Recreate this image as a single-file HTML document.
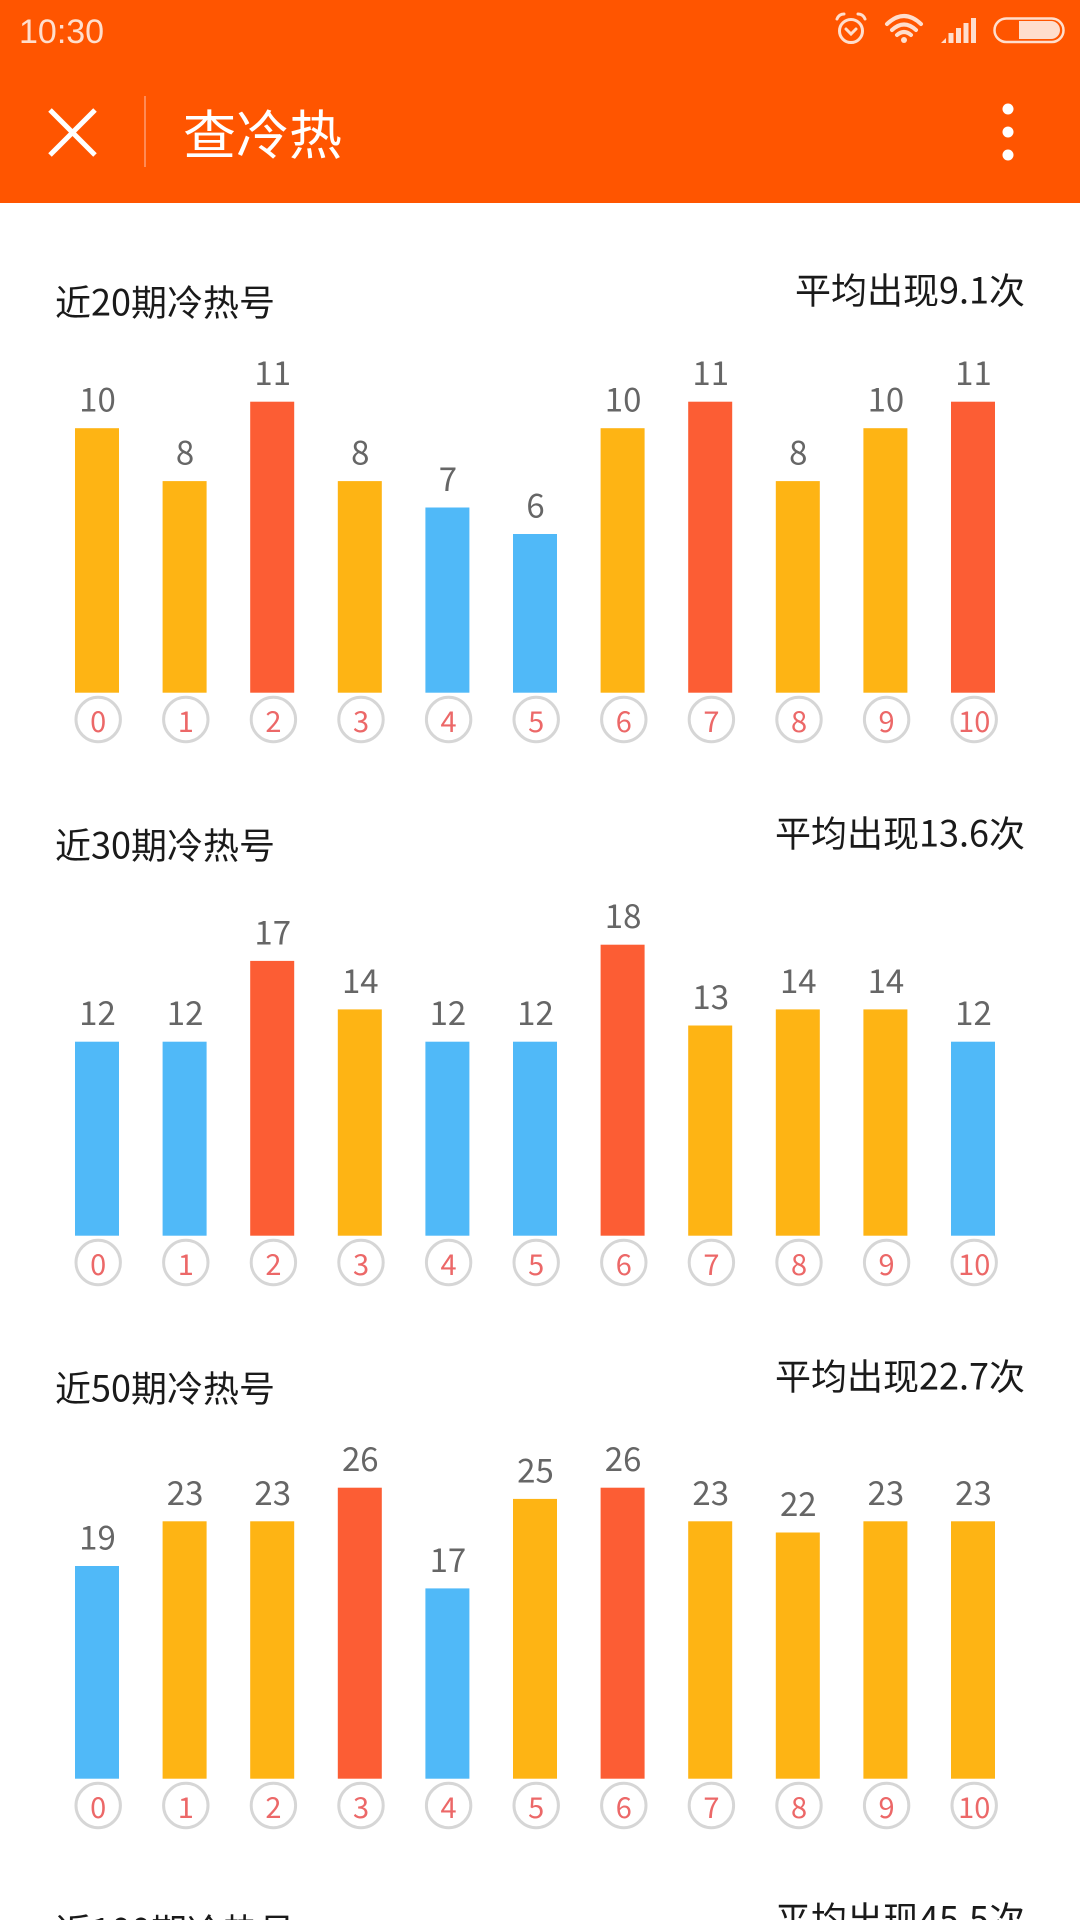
<!DOCTYPE html>
<html>
<head>
<meta charset="utf-8">
<style>
html,body{margin:0;padding:0;background:#fff;}
body{width:1080px;height:1920px;overflow:hidden;}
svg{display:block;}
.t{font-family:"Noto Sans CJK SC","Liberation Sans",sans-serif;}
</style>
</head>
<body>
<svg width="1080" height="1920" viewBox="0 0 1080 1920" xmlns="http://www.w3.org/2000/svg">
<!-- Header -->
<rect x="0" y="0" width="1080" height="203" fill="#ff5500"/>
<text x="19" y="43" font-family="Liberation Sans, sans-serif" font-size="34" fill="#ffdecd">10:30</text>
<!-- alarm -->
<g fill="none" stroke="#ffdecd" stroke-width="3" stroke-linecap="round">
<circle cx="851" cy="31" r="11.5"/>
<path d="M846 29 L851 34 L856 29"/>
<path d="M837 19 Q839 14 844 14"/>
<path d="M865 19 Q863 14 858 14"/>
</g>
<!-- wifi -->
<g fill="none" stroke="#ffdecd" stroke-width="4" stroke-linecap="round">
<path d="M887 24 Q904 8 921 24"/>
<path d="M892 30 Q904 19 916 30"/>
<path d="M897 35 Q904 29 911 35"/>
</g>
<circle cx="904" cy="40" r="3" fill="#ffdecd"/>
<!-- signal -->
<g fill="#ffdecd">
<polygon points="941,43 946,38 946,43"/>
<rect x="948.5" y="33" width="5" height="10"/>
<rect x="956" y="28" width="5" height="15"/>
<rect x="963.5" y="23" width="5" height="20"/>
<rect x="971" y="18" width="5" height="25"/>
</g>
<!-- battery -->
<rect x="994.5" y="18.5" width="69" height="23.5" rx="11.75" fill="none" stroke="#ffdecd" stroke-width="2.5"/>
<path d="M1019 21 H1051 A9 9 0 0 1 1051 39 H1019 Z" fill="#ffdecd"/>
<!-- toolbar -->
<g stroke="#ffffff" stroke-width="5" stroke-linecap="butt">
<line x1="50" y1="110" x2="95" y2="155"/>
<line x1="95" y1="110" x2="50" y2="155"/>
</g>
<line x1="145" y1="96" x2="145" y2="167" stroke="#ff8a55" stroke-width="2"/>
<text class="t" x="183" y="154" font-size="53" fill="#ffffff">查冷热</text>
<g fill="#ffffff">
<circle cx="1008" cy="109" r="5.5"/>
<circle cx="1008" cy="132" r="5.5"/>
<circle cx="1008" cy="155" r="5.5"/>
</g>

<!-- Chart 1 -->
<g class="t">
<text x="55" y="315.5" font-size="36" fill="#1a1a1a">近20期冷热号</text>
<text x="1025" y="303.5" font-size="36" fill="#1a1a1a" text-anchor="end">平均出现9.1次</text>
</g>
<rect x="75" y="428.2" width="44" height="264.5" fill="#feb414"/>
<rect x="162.6" y="481.1" width="44" height="211.6" fill="#feb414"/>
<rect x="250.2" y="401.7" width="44" height="291" fill="#fc5d34"/>
<rect x="337.8" y="481.1" width="44" height="211.6" fill="#feb414"/>
<rect x="425.4" y="507.5" width="44" height="185.2" fill="#50b9f8"/>
<rect x="513" y="534" width="44" height="158.7" fill="#50b9f8"/>
<rect x="600.6" y="428.2" width="44" height="264.5" fill="#feb414"/>
<rect x="688.2" y="401.7" width="44" height="291" fill="#fc5d34"/>
<rect x="775.8" y="481.1" width="44" height="211.6" fill="#feb414"/>
<rect x="863.4" y="428.2" width="44" height="264.5" fill="#feb414"/>
<rect x="951" y="401.7" width="44" height="291" fill="#fc5d34"/>
<g class="t" font-size="33" fill="#666666" text-anchor="middle">
<text x="97.5" y="411.7">10</text>
<text x="185.1" y="464.6">8</text>
<text x="272.7" y="385.2">11</text>
<text x="360.3" y="464.6">8</text>
<text x="447.9" y="491">7</text>
<text x="535.5" y="517.5">6</text>
<text x="623.1" y="411.7">10</text>
<text x="710.7" y="385.2">11</text>
<text x="798.3" y="464.6">8</text>
<text x="885.9" y="411.7">10</text>
<text x="973.5" y="385.2">11</text>
</g>
<g fill="none" stroke="#d6d6d6" stroke-width="3">
<circle cx="98.2" cy="719.5" r="22.2"/><circle cx="185.8" cy="719.5" r="22.2"/><circle cx="273.4" cy="719.5" r="22.2"/><circle cx="361" cy="719.5" r="22.2"/><circle cx="448.6" cy="719.5" r="22.2"/><circle cx="536.2" cy="719.5" r="22.2"/><circle cx="623.8" cy="719.5" r="22.2"/><circle cx="711.4" cy="719.5" r="22.2"/><circle cx="799" cy="719.5" r="22.2"/><circle cx="886.6" cy="719.5" r="22.2"/><circle cx="974.2" cy="719.5" r="22.2"/>
</g>
<g class="t" font-size="29" fill="#ec6868" text-anchor="middle">
<text x="98.2" y="732">0</text><text x="185.8" y="732">1</text><text x="273.4" y="732">2</text><text x="361" y="732">3</text><text x="448.6" y="732">4</text><text x="536.2" y="732">5</text><text x="623.8" y="732">6</text><text x="711.4" y="732">7</text><text x="799" y="732">8</text><text x="886.6" y="732">9</text><text x="974.2" y="732">10</text>
</g>

<!-- Chart 2 -->
<g class="t">
<text x="55" y="858.5" font-size="36" fill="#1a1a1a">近30期冷热号</text>
<text x="1025" y="846.5" font-size="36" fill="#1a1a1a" text-anchor="end">平均出现13.6次</text>
</g>
<rect x="75" y="1041.7" width="44" height="194" fill="#50b9f8"/>
<rect x="162.6" y="1041.7" width="44" height="194" fill="#50b9f8"/>
<rect x="250.2" y="960.9" width="44" height="274.8" fill="#fc5d34"/>
<rect x="337.8" y="1009.4" width="44" height="226.3" fill="#feb414"/>
<rect x="425.4" y="1041.7" width="44" height="194" fill="#50b9f8"/>
<rect x="513" y="1041.7" width="44" height="194" fill="#50b9f8"/>
<rect x="600.6" y="944.7" width="44" height="291" fill="#fc5d34"/>
<rect x="688.2" y="1025.5" width="44" height="210.2" fill="#feb414"/>
<rect x="775.8" y="1009.4" width="44" height="226.3" fill="#feb414"/>
<rect x="863.4" y="1009.4" width="44" height="226.3" fill="#feb414"/>
<rect x="951" y="1041.7" width="44" height="194" fill="#50b9f8"/>
<g class="t" font-size="33" fill="#666666" text-anchor="middle">
<text x="97.5" y="1025.2">12</text>
<text x="185.1" y="1025.2">12</text>
<text x="272.7" y="944.4">17</text>
<text x="360.3" y="992.9">14</text>
<text x="447.9" y="1025.2">12</text>
<text x="535.5" y="1025.2">12</text>
<text x="623.1" y="928.2">18</text>
<text x="710.7" y="1009">13</text>
<text x="798.3" y="992.9">14</text>
<text x="885.9" y="992.9">14</text>
<text x="973.5" y="1025.2">12</text>
</g>
<g fill="none" stroke="#d6d6d6" stroke-width="3">
<circle cx="98.2" cy="1262.5" r="22.2"/><circle cx="185.8" cy="1262.5" r="22.2"/><circle cx="273.4" cy="1262.5" r="22.2"/><circle cx="361" cy="1262.5" r="22.2"/><circle cx="448.6" cy="1262.5" r="22.2"/><circle cx="536.2" cy="1262.5" r="22.2"/><circle cx="623.8" cy="1262.5" r="22.2"/><circle cx="711.4" cy="1262.5" r="22.2"/><circle cx="799" cy="1262.5" r="22.2"/><circle cx="886.6" cy="1262.5" r="22.2"/><circle cx="974.2" cy="1262.5" r="22.2"/>
</g>
<g class="t" font-size="29" fill="#ec6868" text-anchor="middle">
<text x="98.2" y="1275">0</text><text x="185.8" y="1275">1</text><text x="273.4" y="1275">2</text><text x="361" y="1275">3</text><text x="448.6" y="1275">4</text><text x="536.2" y="1275">5</text><text x="623.8" y="1275">6</text><text x="711.4" y="1275">7</text><text x="799" y="1275">8</text><text x="886.6" y="1275">9</text><text x="974.2" y="1275">10</text>
</g>

<!-- Chart 3 -->
<g class="t">
<text x="55" y="1401.5" font-size="36" fill="#1a1a1a">近50期冷热号</text>
<text x="1025" y="1389.5" font-size="36" fill="#1a1a1a" text-anchor="end">平均出现22.7次</text>
</g>
<rect x="75" y="1566" width="44" height="212.7" fill="#50b9f8"/>
<rect x="162.6" y="1521.3" width="44" height="257.4" fill="#feb414"/>
<rect x="250.2" y="1521.3" width="44" height="257.4" fill="#feb414"/>
<rect x="337.8" y="1487.7" width="44" height="291" fill="#fc5d34"/>
<rect x="425.4" y="1588.4" width="44" height="190.3" fill="#50b9f8"/>
<rect x="513" y="1498.9" width="44" height="279.8" fill="#feb414"/>
<rect x="600.6" y="1487.7" width="44" height="291" fill="#fc5d34"/>
<rect x="688.2" y="1521.3" width="44" height="257.4" fill="#feb414"/>
<rect x="775.8" y="1532.5" width="44" height="246.2" fill="#feb414"/>
<rect x="863.4" y="1521.3" width="44" height="257.4" fill="#feb414"/>
<rect x="951" y="1521.3" width="44" height="257.4" fill="#feb414"/>
<g class="t" font-size="33" fill="#666666" text-anchor="middle">
<text x="97.5" y="1549.5">19</text>
<text x="185.1" y="1504.8">23</text>
<text x="272.7" y="1504.8">23</text>
<text x="360.3" y="1471.2">26</text>
<text x="447.9" y="1571.9">17</text>
<text x="535.5" y="1482.4">25</text>
<text x="623.1" y="1471.2">26</text>
<text x="710.7" y="1504.8">23</text>
<text x="798.3" y="1516">22</text>
<text x="885.9" y="1504.8">23</text>
<text x="973.5" y="1504.8">23</text>
</g>
<g fill="none" stroke="#d6d6d6" stroke-width="3">
<circle cx="98.2" cy="1805.5" r="22.2"/><circle cx="185.8" cy="1805.5" r="22.2"/><circle cx="273.4" cy="1805.5" r="22.2"/><circle cx="361" cy="1805.5" r="22.2"/><circle cx="448.6" cy="1805.5" r="22.2"/><circle cx="536.2" cy="1805.5" r="22.2"/><circle cx="623.8" cy="1805.5" r="22.2"/><circle cx="711.4" cy="1805.5" r="22.2"/><circle cx="799" cy="1805.5" r="22.2"/><circle cx="886.6" cy="1805.5" r="22.2"/><circle cx="974.2" cy="1805.5" r="22.2"/>
</g>
<g class="t" font-size="29" fill="#ec6868" text-anchor="middle">
<text x="98.2" y="1818">0</text><text x="185.8" y="1818">1</text><text x="273.4" y="1818">2</text><text x="361" y="1818">3</text><text x="448.6" y="1818">4</text><text x="536.2" y="1818">5</text><text x="623.8" y="1818">6</text><text x="711.4" y="1818">7</text><text x="799" y="1818">8</text><text x="886.6" y="1818">9</text><text x="974.2" y="1818">10</text>
</g>

<!-- Chart 4 (partially visible) -->
<g class="t">
<text x="55" y="1944.5" font-size="36" fill="#1a1a1a">近100期冷热号</text>
<text x="1025" y="1932.5" font-size="36" fill="#1a1a1a" text-anchor="end">平均出现45.5次</text>
</g>
</svg>
</body>
</html>
